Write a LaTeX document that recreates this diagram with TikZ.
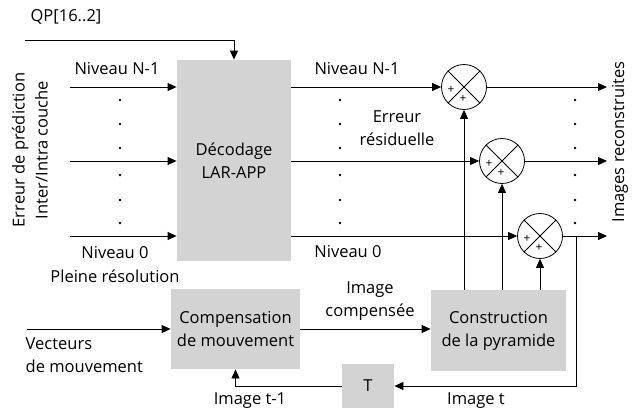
\documentclass[tikz,border=0pt]{standalone}
\usepackage{fontspec}
\setmainfont{Open Sans}
\usetikzlibrary{arrows.meta, positioning, calc}
\definecolor{boxgray}{RGB}{211,211,211}

\begin{document}
\begin{tikzpicture}[x=1pt, y=-1pt, >={Triangle[length=9pt,width=8pt]},
    line width=0.8pt,
    font=\fontsize{16.5}{23}\selectfont,
    block/.style={fill=boxgray, inner sep=0pt, align=center},
    sumnode/.style={circle, draw, minimum size=45pt, inner sep=0pt},
    dotmark/.style={circle, fill, inner sep=0pt, minimum size=2.6pt}]
    \useasboundingbox (0,0) rectangle (637,410);

    % Blocks
    \node[block, minimum width=114pt, minimum height=201pt] (dec) at (234,160.5) {D\'ecodage\\LAR-APP};
    \node[block, minimum width=129pt, minimum height=80pt] (comp) at (235.5,329) {Compensation\\de mouvement};
    \node[block, minimum width=135pt, minimum height=81pt] (cons) at (498.5,330.5) {Construction\\de la pyramide};
    \node[block, minimum width=52pt, minimum height=44pt] (T) at (368,386) {T};

    % Sums
    \node[sumnode] (s1) at (464,87) {};
    \node[sumnode] (s2) at (502,161) {};
    \node[sumnode] (s3) at (540,236) {};
    \foreach \s in {s1,s2,s3} {
        \draw (\s.north west) -- (\s.south east) (\s.north east) -- (\s.south west);
        \node[font=\fontsize{12}{12}\selectfont, inner sep=0pt] at ($(\s)+(-13,3)$) {+};
        \node[font=\fontsize{12}{12}\selectfont, inner sep=0pt] at ($(\s)+(-1,12)$) {+};
    }

    % Free ends
    \coordinate (qp) at (25,40);
    \coordinate (in1) at (70,87);
    \coordinate (in2) at (70,161);
    \coordinate (in3) at (70,236);
    \coordinate (out1) at (607,87);
    \coordinate (out2) at (607,161);
    \coordinate (out3) at (607,236);
    \coordinate (tap) at (576,236);
    \coordinate (vec) at (27,329);

    % Connectors
    \draw[->] (qp) -| (dec.north);
    \draw[->] (in1) -- (in1 -| dec.west);
    \draw[->] (in2) -- (in2 -| dec.west);
    \draw[->] (in3) -- (in3 -| dec.west);
    \draw[->] (dec.east |- s1) -- (s1);
    \draw[->] (dec.east |- s2) -- (s2);
    \draw[->] (dec.east |- s3) -- (s3);
    \draw[->] (s1) -- (out1);
    \draw[->] (s2) -- (out2);
    \draw[->] (s3) -- (out3);
    \draw[->] (cons.north -| s1) -- (s1);
    \draw[->] (cons.north -| s2) -- (s2);
    \draw[->] (cons.north -| s3) -- (s3);
    \draw[->] (vec) -- (vec -| comp.west);
    \draw[->] (comp.east) -- (comp.east -| cons.west);
    \draw[->] (tap) |- (T.east);
    \draw[->] (T.west) -| (comp.south);

    % Dots
    \foreach \x in {120,340,575}
        \foreach \y in {100,124,148,175,200,223}
            \node[dotmark] at (\x,\y) {};

    % Labels
    \node (qplab) at (66,17) {QP[16..2]};
    \node (nin1) at (117,69) {Niveau N-1};
    \node (nin0) at (115,253) {Niveau 0};
    \node (pleine) at (115,276) {Pleine r\'esolution};
    \node[rotate=90, align=center] (errpred) at (30,150) {Erreur de pr\'ediction\\Inter/Intra couche};
    \node (nout1) at (357,69) {Niveau N-1};
    \node (nout0) at (348,252) {Niveau 0};
    \node[align=center] (resid) at (397,128) {Erreur\\r\'esiduelle};
    \node[rotate=90] (recon) at (620,142) {Images reconstruites};
    \node[align=center] (imcomp) at (370,301) {Image\\compens\'ee};
    \node[align=left, anchor=west] (vecl) at (22,355) {Vecteurs\\de mouvement};
    \node (imt1) at (250,401) {Image t-1};
    \node (imt) at (476,401) {Image t};
\end{tikzpicture}
\end{document}
